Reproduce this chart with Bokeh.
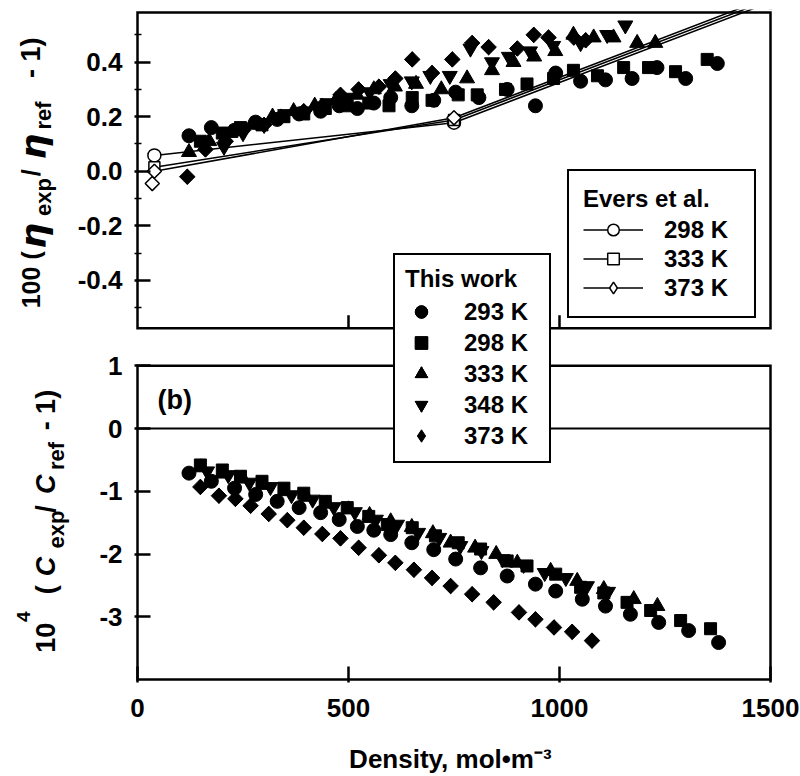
import math
from bokeh.plotting import figure
from bokeh.layouts import row
from bokeh.models import Range1d, FixedTicker, Label, Legend, LegendItem
from bokeh.embed import file_html
from bokeh.resources import INLINE

# ---------------- data ----------------
# (a) viscosity deviations, 100*(eta_exp/eta_ref - 1), this work
TOP_293_X = [122, 175, 230, 280, 331, 383, 434, 478, 521, 560, 600, 650, 702, 754, 809, 876, 943, 991, 1050, 1109, 1172, 1231, 1299, 1374]
TOP_293_Y = [0.13, 0.16, 0.15, 0.18, 0.19, 0.21, 0.22, 0.24, 0.23, 0.25, 0.27, 0.24, 0.26, 0.29, 0.27, 0.30, 0.24, 0.36, 0.33, 0.335, 0.34, 0.38, 0.34, 0.395]
TOP_298_X = [149, 201, 244, 295, 347, 394, 445, 497, 548, 596, 651, 698, 760, 805, 872, 923, 986, 1033, 1090, 1152, 1211, 1275, 1350]
TOP_298_Y = [0.11, 0.14, 0.16, 0.17, 0.20, 0.21, 0.23, 0.24, 0.25, 0.24, 0.27, 0.26, 0.28, 0.28, 0.30, 0.32, 0.34, 0.37, 0.35, 0.38, 0.38, 0.365, 0.41]
TOP_333_X = [122, 170, 220, 270, 320, 370, 420, 470, 520, 560, 610, 660, 720, 781, 840, 891, 940, 990, 1033, 1081, 1128, 1184, 1227]
TOP_333_Y = [0.07, 0.11, 0.14, 0.17, 0.20, 0.22, 0.24, 0.26, 0.28, 0.30, 0.31, 0.32, 0.30, 0.34, 0.37, 0.40, 0.42, 0.44, 0.50, 0.49, 0.49, 0.47, 0.47]
TOP_348_X = [205, 250, 300, 350, 400, 450, 500, 550, 600, 650, 694, 740, 789, 840, 880, 930, 985, 1050, 1113, 1156]
TOP_348_Y = [0.09, 0.14, 0.17, 0.21, 0.22, 0.25, 0.27, 0.29, 0.32, 0.33, 0.35, 0.35, 0.45, 0.40, 0.42, 0.44, 0.46, 0.47, 0.50, 0.535]
TOP_373_X = [118, 161, 209, 250, 300, 340, 394, 438, 481, 524, 572, 611, 651, 698, 746, 793, 832, 900, 939, 974, 1034, 1062]
TOP_373_Y = [-0.02, 0.08, 0.11, 0.15, 0.17, 0.20, 0.22, 0.24, 0.28, 0.30, 0.31, 0.34, 0.41, 0.36, 0.41, 0.47, 0.455, 0.45, 0.50, 0.49, 0.49, 0.48]

# Evers et al.
EV_298_X = [40, 750, 1500]
EV_298_Y = [0.058, 0.178, 0.62]
EV_333_X = [40, 750, 1500]
EV_333_Y = [0.015, 0.188, 0.63]
EV_373_X = [35, 40, 750, 1500]
EV_373_Y = [-0.045, 0.0, 0.196, 0.64]

# (b) speed of sound deviations, 1e4*(c_exp/c_ref - 1)
BOT_293_X = [122, 175, 230, 280, 331, 383, 434, 478, 521, 560, 600, 650, 702, 754, 813, 876, 943, 991, 1054, 1109, 1168, 1235, 1306, 1377]
BOT_293_Y = [-0.71, -0.84, -0.95, -1.05, -1.16, -1.26, -1.34, -1.45, -1.56, -1.62, -1.69, -1.82, -1.93, -2.08, -2.22, -2.35, -2.48, -2.59, -2.72, -2.83, -2.96, -3.09, -3.22, -3.41]
BOT_298_X = [149, 201, 244, 295, 347, 394, 445, 497, 548, 592, 651, 706, 760, 813, 876, 923, 991, 1050, 1105, 1160, 1216, 1287, 1358]
BOT_298_Y = [-0.58, -0.66, -0.76, -0.84, -0.95, -1.03, -1.16, -1.26, -1.40, -1.53, -1.58, -1.71, -1.82, -1.92, -2.11, -2.19, -2.32, -2.53, -2.62, -2.77, -2.90, -3.06, -3.19]
BOT_333_X = [150, 200, 250, 300, 350, 400, 450, 500, 550, 600, 650, 700, 742, 800, 850, 900, 979, 1042, 1105, 1176, 1232]
BOT_333_Y = [-0.62, -0.72, -0.80, -0.90, -1.00, -1.09, -1.20, -1.29, -1.38, -1.48, -1.57, -1.67, -1.82, -1.90, -2.00, -2.14, -2.27, -2.43, -2.56, -2.72, -2.83]
BOT_348_X = [165, 215, 265, 315, 365, 415, 465, 515, 565, 615, 665, 715, 765, 815, 865, 915, 965, 1015, 1065, 1115]
BOT_348_Y = [-0.68, -0.74, -0.86, -0.93, -1.06, -1.13, -1.25, -1.33, -1.45, -1.53, -1.66, -1.74, -1.87, -1.95, -2.08, -2.17, -2.30, -2.38, -2.51, -2.60]
BOT_373_X = [149, 193, 232, 268, 311, 355, 394, 438, 481, 524, 572, 611, 655, 698, 742, 793, 844, 904, 943, 987, 1030, 1077]
BOT_373_Y = [-0.93, -1.07, -1.12, -1.23, -1.36, -1.46, -1.58, -1.68, -1.75, -1.90, -2.02, -2.14, -2.25, -2.38, -2.51, -2.64, -2.77, -2.93, -3.04, -3.17, -3.24, -3.38]

THIS_WORK_LABELS = ["293 K", "298 K", "333 K", "348 K", "373 K"]
EVERS_LABELS = ["298 K", "333 K", "373 K"]

X_TICKS = [0, 500, 1000, 1500]
TOP_TICKS = [-0.4, -0.2, 0.0, 0.2, 0.4]
TOP_TICK_LABELS = ["-0.4", "-0.2", "0.0", "0.2", "0.4"]
TOP_MINOR = [-0.5, -0.3, -0.1, 0.1, 0.3, 0.5]
BOT_TICKS = [-3, -2, -1, 0, 1]
BOT_TICK_LABELS = ["-3", "-2", "-1", "0", "1"]

# ---------------- layout (page pixels) ----------------
XLIM = (0, 1500)
TOP_LIM = (-0.575, 0.582)
BOT_LIM = (-4.0, 1.0)
TOP_PX, GAP_PX, BOT_PX = 318, 38, 316
FRAME_W = 633
PAD = 3
FRAME_LEFT_PAGE = 137
FRAME_TOP_PAGE = 12
W, H = 800, 776
LAB_W = 72                      # width of the strip holding the y titles
MAIN_W = W - LAB_W

FRAME_H = TOP_PX + GAP_PX + BOT_PX
BOT_BOTTOM_PAGE = FRAME_TOP_PAGE + FRAME_H
ppx = FRAME_W / (XLIM[1] - XLIM[0])
t_scale = TOP_PX / (TOP_LIM[1] - TOP_LIM[0])
b_scale = BOT_PX / (BOT_LIM[1] - BOT_LIM[0])

top_end = TOP_LIM[1] + PAD / t_scale
bot_start = BOT_LIM[0] - PAD / b_scale

ml = FRAME_LEFT_PAGE - PAD - LAB_W
mt = FRAME_TOP_PAGE - PAD
mr = MAIN_W - ml - (FRAME_W + 2 * PAD)
mb = H - mt - (FRAME_H + 2 * PAD)


def px_x(px):
    return XLIM[0] + (px - FRAME_LEFT_PAGE) / ppx


def py_top(py):
    return TOP_LIM[1] - (py - FRAME_TOP_PAGE) / t_scale


def py_bot(py):
    return BOT_LIM[0] + (BOT_BOTTOM_PAGE - py) / b_scale


def bot_to_top(v):
    page = BOT_BOTTOM_PAGE - (v - BOT_LIM[0]) * b_scale
    return py_top(page)


SANS = "Liberation Sans"

p = figure(width=MAIN_W, height=H,
           x_range=Range1d(XLIM[0] - PAD / ppx, XLIM[1] + PAD / ppx),
           y_range=Range1d(top_end - (FRAME_H + 2 * PAD) / t_scale, top_end),
           output_backend="svg", toolbar_location=None,
           min_border_left=ml, min_border_right=mr,
           min_border_top=mt, min_border_bottom=mb,
           outline_line_color=None)
p.extra_y_ranges = {"bot": Range1d(bot_start, bot_start + (FRAME_H + 2 * PAD) / b_scale)}
p.xgrid.visible = False
p.ygrid.visible = False

# ---- axes ----
yax = p.yaxis[0]
all_ticks = TOP_TICKS + [bot_to_top(v) for v in BOT_TICKS]
yax.ticker = FixedTicker(ticks=all_ticks, minor_ticks=TOP_MINOR)
overrides = {float(t): s for t, s in zip(TOP_TICKS, TOP_TICK_LABELS)}
for v, s in zip(BOT_TICKS, BOT_TICK_LABELS):
    overrides[float(bot_to_top(v))] = s
yax.major_label_overrides = overrides
xax = p.xaxis[0]
xax.ticker = FixedTicker(ticks=X_TICKS)
for ax in (xax, yax):
    ax.axis_line_color = None
    ax.major_tick_in = 16
    ax.major_tick_out = 0
    ax.major_tick_line_width = 2.5
    ax.major_tick_line_color = "black"
    ax.minor_tick_in = 7
    ax.minor_tick_out = 0
    ax.minor_tick_line_width = 1.5
    ax.minor_tick_line_color = "black"
    ax.major_label_text_font = SANS
    ax.major_label_text_font_style = "bold"
    ax.major_label_text_font_size = "26px"
    ax.major_label_text_color = "black"
yax.major_label_standoff = 12
xax.major_label_standoff = 16
xax.axis_label = "Density,  mol\u2022m\u207b\u00b3"
xax.axis_label_text_font = SANS
xax.axis_label_text_font_style = "bold"
xax.axis_label_text_font_size = "26px"
xax.axis_label_text_color = "black"
xax.axis_label_standoff = 24

# ---- panel frames ----
p.quad(left=[XLIM[0]], right=[XLIM[1]], bottom=[TOP_LIM[0]], top=[TOP_LIM[1]],
       fill_color=None, line_color="black", line_width=2.5, line_join="miter")
p.quad(left=[XLIM[0]], right=[XLIM[1]], bottom=[BOT_LIM[0]], top=[BOT_LIM[1]],
       fill_color=None, line_color="black", line_width=2.5, line_join="miter",
       y_range_name="bot")
p.segment(x0=[XLIM[0]], x1=[XLIM[1]], y0=[0], y1=[0], line_color="black",
          line_width=2, y_range_name="bot")
inner_x = X_TICKS[1:-1]
p.segment(x0=inner_x, x1=inner_x, y0=[TOP_LIM[0]] * len(inner_x),
          y1=[TOP_LIM[0] + 13 / t_scale] * len(inner_x), line_color="black", line_width=2.5)

# ---- this work ----
ROT = math.pi / 4
specs = [
    (TOP_293_X, TOP_293_Y, BOT_293_X, BOT_293_Y, "circle", 14, 0),
    (TOP_298_X, TOP_298_Y, BOT_298_X, BOT_298_Y, "square", 12, 0),
    (TOP_333_X, TOP_333_Y, BOT_333_X, BOT_333_Y, "triangle", 15, 0),
    (TOP_348_X, TOP_348_Y, BOT_348_X, BOT_348_Y, "inverted_triangle", 15, 0),
    (TOP_373_X, TOP_373_Y, BOT_373_X, BOT_373_Y, "square", 11, ROT),
]
tw_items = []
for (tx, ty, bx, by, mk, sz, ang), lab_txt in zip(specs, THIS_WORK_LABELS):
    rends = []
    if ang:
        # plain diamond under the rotated square: gives the legend its diamond glyph
        rends.append(p.scatter(tx, ty, marker="diamond", size=15, fill_color="black", line_color="black"))
        p.scatter(bx, by, marker="diamond", size=15, fill_color="black", line_color="black",
                  y_range_name="bot")
    r1 = p.scatter(tx, ty, marker=mk, size=sz, angle=ang, fill_color="black", line_color="black")
    r2 = p.scatter(bx, by, marker=mk, size=sz, angle=ang, fill_color="black", line_color="black",
                   y_range_name="bot")
    if not rends:
        rends = [r1, r2]
    tw_items.append(LegendItem(label=lab_txt, renderers=rends))

# ---- Evers et al. ----
ev_specs = [
    (EV_298_X, EV_298_Y, "circle", 13, 0),
    (EV_333_X, EV_333_Y, "square", 11, 0),
    (EV_373_X, EV_373_Y, "square", 10, ROT),
]
ev_items = []
for (ex, ey, mk, sz, ang), lab_txt in zip(ev_specs, EVERS_LABELS):
    ln = p.line(ex, ey, line_color="black", line_width=1.5)
    proxy = None
    if ang:
        proxy = p.scatter(ex, ey, marker="diamond", size=13, fill_color="white",
                          line_color="black", line_width=1.5)
    sc = p.scatter(ex, ey, marker=mk, size=sz, angle=ang, fill_color="white",
                   line_color="black", line_width=1.5)
    ev_items.append(LegendItem(label=lab_txt, renderers=[ln, proxy if proxy is not None else sc]))


def style_legend(leg):
    leg.label_text_font = SANS
    leg.label_text_font_style = "bold"
    leg.label_text_font_size = "24px"
    leg.label_text_color = "black"
    leg.title_text_font = SANS
    leg.title_text_font_style = "bold"
    leg.title_text_font_size = "24px"
    leg.title_text_color = "black"
    leg.border_line_color = "black"
    leg.border_line_alpha = 1.0
    leg.border_line_width = 2.5
    leg.background_fill_color = "white"
    leg.background_fill_alpha = 1.0
    leg.margin = 0


FRAME_BL = (FRAME_LEFT_PAGE - PAD, BOT_BOTTOM_PAGE + PAD)
leg1 = Legend(items=tw_items, location=(393 - FRAME_BL[0], FRAME_BL[1] - 468),
              title="This work", padding=10, spacing=0, glyph_width=32, glyph_height=31,
              label_width=75, label_height=31, label_standoff=27, title_standoff=3)
style_legend(leg1)
leg2 = Legend(items=ev_items, location=(567 - FRAME_BL[0], FRAME_BL[1] - 323),
              title="Evers et al.", padding=14, spacing=0, glyph_width=60, glyph_height=29,
              label_width=76, label_height=29, label_standoff=21, title_standoff=2)
style_legend(leg2)
p.add_layout(leg1)
p.add_layout(leg2)

# ---- panel label (b) ----
p.add_layout(Label(x=px_x(157), y=py_bot(402), text="(b)", text_font=SANS,
                   text_font_style="bold", text_font_size="27px", text_baseline="middle",
                   text_color="black", y_range_name="bot"))

# ---- y titles: a strip to the left; its frame lines up with the main frame ----
lab = figure(width=LAB_W, height=H, x_range=Range1d(0, LAB_W),
             y_range=Range1d(-(BOT_BOTTOM_PAGE + PAD), -(FRAME_TOP_PAGE - PAD)),
             output_backend="svg", toolbar_location=None, x_axis_location=None,
             y_axis_location=None, min_border=0, outline_line_color=None)
lab.xgrid.visible = False
lab.ygrid.visible = False

GREEK = "DejaVu Sans"
# (text, centre x across the text, start y along the text, size, font, style)
title_pieces = [
    ("100 (", 30, 310, 25, SANS, "bold"),
    ("\u03b7", 33, 250, 36, GREEK, "bold italic"),
    ("exp", 43, 217, 22, SANS, "bold"),
    ("/", 30, 177, 25, SANS, "bold"),
    ("\u03b7", 33, 160, 36, GREEK, "bold italic"),
    ("ref", 43, 130, 22, SANS, "bold"),
    ("- 1)", 30, 78, 27, SANS, "bold"),
    ("10", 45, 657, 27, SANS, "bold"),
    ("4", 23, 626, 19, SANS, "bold"),
    ("(", 45, 598, 27, SANS, "bold"),
    ("C", 45, 580, 27, SANS, "bold italic"),
    ("exp", 56, 552, 22, SANS, "bold"),
    ("/", 45, 516, 27, SANS, "bold"),
    ("C", 45, 497, 27, SANS, "bold italic"),
    ("ref", 56, 473, 22, SANS, "bold"),
    ("- 1)", 45, 433, 27, SANS, "bold"),
]
for txt, cx, sy, fs, fnt, sty in title_pieces:
    lab.add_layout(Label(x=cx, y=-sy, text=txt, angle=math.pi / 2,
                         text_font=fnt, text_font_style=sty, text_font_size=f"{fs}px",
                         text_color="black", text_align="left", text_baseline="middle"))

layout = row(lab, p, spacing=0)
open("out.html", "w").write(file_html(layout, INLINE))
